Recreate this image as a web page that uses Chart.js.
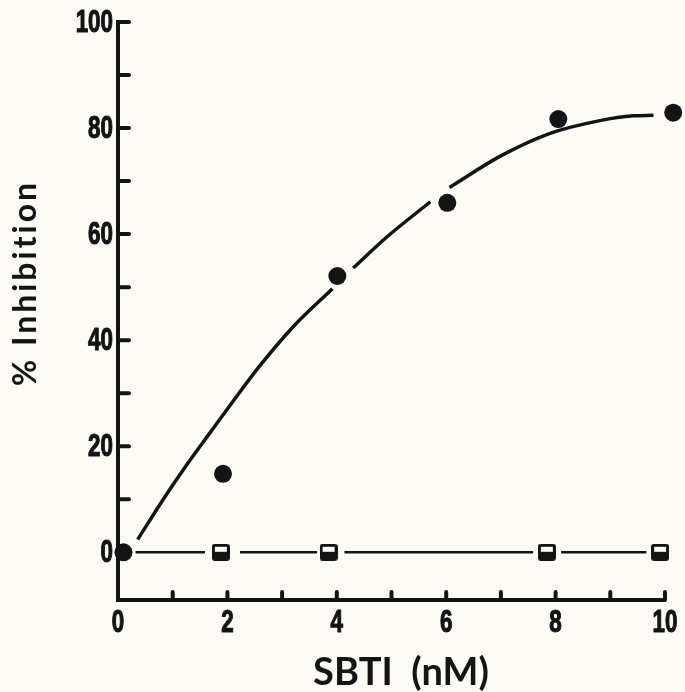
<!DOCTYPE html>
<html>
<head>
<meta charset="utf-8">
<script src="https://cdn.jsdelivr.net/npm/chart.js@4.4.0/dist/chart.umd.min.js"></script>
<style>
  html, body { margin: 0; padding: 0; background: #fcfaf5; }
  #wrap { width: 685px; height: 692px; }
</style>
</head>
<body>
<div id="wrap"><canvas id="inhibChart" width="685" height="692"></canvas></div>
<script>
// measured points (filled circles) and control (half-filled squares)
const circleX = [0.1, 1.92, 4.01, 6.02, 8.05, 10.15];
const circleY = [0, 14.8, 52.1, 65.9, 81.7, 82.9];
const squareX = [1.88, 3.85, 7.84, 9.91];
const squareY = [0, 0, 0, 0];

const curveX1 = [0.36, 0.84, 1.27, 1.70, 2.12, 2.58, 3.19, 3.92];
const curveY1 = [2.4, 10.2, 16.7, 22.8, 28.7, 35.0, 42.4, 49.7];
const curveX2 = [4.30, 4.92, 5.71];
const curveY2 = [53.6, 59.5, 66.1];
const curveX3 = [6.06, 6.99, 7.90, 8.81, 9.42, 9.79];
const curveY3 = [68.8, 74.7, 79.0, 81.4, 82.3, 82.4];

// flat line through the squares, broken at each marker
const controlStart = [0.32, 2.23, 4.14, 8.10];
const controlEnd = [1.59, 3.64, 7.59, 9.66];
const controlLevel = 0;

const xTickLabels = [0, 2, 4, 6, 8, 10];
const yTickLabels = [0, 20, 40, 60, 80, 100];
const xTickMarks = [1, 2, 3, 4, 5, 6, 7, 8, 9, 10];
const yTickMarks = [10, 20, 30, 40, 50, 60, 70, 80, 90, 100];

const ink = '#141414';
const paper = '#fcfaf5';

function zip(xs, ys) {
    return xs.map((x, i) => ({ x: x, y: ys[i] }));
}

function makeSquareMarker() {
    const c = document.createElement('canvas');
    c.width = 18;
    c.height = 17;
    const g = c.getContext('2d');
    g.fillStyle = ink;
    g.beginPath();
    g.roundRect(0, 0, 18, 17, 3);
    g.fill();
    g.fillStyle = paper;
    g.fillRect(3, 3, 12, 5);
    return c;
}

const curveStyle = {
    showLine: true,
    borderColor: ink,
    borderWidth: 3.5,
    pointRadius: 0,
    cubicInterpolationMode: 'monotone',
    borderCapStyle: 'butt'
};

const datasets = [
    Object.assign({ data: zip(curveX1, curveY1) }, curveStyle),
    Object.assign({ data: zip(curveX2, curveY2) }, curveStyle),
    Object.assign({ data: zip(curveX3, curveY3) }, curveStyle)
];

controlStart.forEach((x0, i) => {
    datasets.push({
        data: [{ x: x0, y: controlLevel }, { x: controlEnd[i], y: controlLevel }],
        showLine: true,
        borderColor: ink,
        borderWidth: 2.5,
        pointRadius: 0
    });
});

datasets.push({
    data: zip(squareX, squareY),
    pointStyle: makeSquareMarker(),
    pointRadius: 9,
    clip: false
});

datasets.push({
    data: zip(circleX, circleY),
    backgroundColor: ink,
    borderColor: ink,
    borderWidth: 0,
    pointRadius: 9,
    clip: false
});

// narrow tick numbers, inward tick marks and off-centre titles, drawn on the scales
function narrowText(ctx, text, x, y, align) {
    ctx.save();
    ctx.translate(x, y);
    ctx.scale(0.7, 1);
    ctx.textAlign = align;
    ctx.fillText(text, 0, 0);
    ctx.strokeText(text, 0, 0);
    ctx.restore();
}

const paperAxes = {
    id: 'paperAxes',
    beforeDraw(chart) {
        const ctx = chart.ctx;
        ctx.save();
        ctx.fillStyle = paper;
        ctx.fillRect(0, 0, chart.width, chart.height);
        ctx.restore();
    },
    afterDraw(chart) {
        const ctx = chart.ctx;
        const xs = chart.scales.x;
        const ys = chart.scales.y;
        const area = chart.chartArea;
        ctx.save();
        ctx.strokeStyle = ink;
        ctx.lineWidth = 4;
        ctx.lineCap = 'round';
        yTickMarks.forEach(v => {
            const py = ys.getPixelForValue(v);
            ctx.beginPath();
            ctx.moveTo(area.left, py);
            ctx.lineTo(area.left + 11, py);
            ctx.stroke();
        });
        xTickMarks.forEach(v => {
            const px = xs.getPixelForValue(v);
            ctx.beginPath();
            ctx.moveTo(px, area.bottom);
            ctx.lineTo(px, area.bottom - 8);
            ctx.stroke();
        });

        ctx.fillStyle = ink;
        ctx.lineWidth = 1.2;
        ctx.lineJoin = 'round';
        ctx.font = 'bold 32px "Liberation Sans", Arial, sans-serif';
        ctx.textBaseline = 'middle';
        yTickLabels.forEach(v => {
            narrowText(ctx, String(v), area.left - 5, ys.getPixelForValue(v) + 1, 'right');
        });
        ctx.textBaseline = 'top';
        xTickLabels.forEach(v => {
            narrowText(ctx, String(v), xs.getPixelForValue(v), area.bottom + 7, 'center');
        });

        ctx.textAlign = 'center';
        ctx.textBaseline = 'alphabetic';
        ctx.font = 'bold 38px Lato, sans-serif';
        ctx.fillText('SBTI  (nM)', 401, 685);

        ctx.translate(36, 283);
        ctx.rotate(-Math.PI / 2);
        ctx.font = 'bold 32px Lato, sans-serif';
        ctx.letterSpacing = '3px';
        ctx.fillText('% Inhibition', 0, 0);
        ctx.restore();
    }
};

new Chart(document.getElementById('inhibChart'), {
    type: 'scatter',
    data: { datasets: datasets },
    plugins: [paperAxes],
    options: {
        responsive: false,
        animation: false,
        layout: { padding: { left: 0, right: 20, top: 22, bottom: 0 } },
        plugins: {
            legend: { display: false },
            tooltip: { enabled: false }
        },
        scales: {
            x: {
                type: 'linear',
                min: 0,
                max: 10,
                afterBuildTicks: axis => { axis.ticks = xTickLabels.map(v => ({ value: v })); },
                afterFit: axis => { axis.height = 92; },
                grid: { display: false, drawTicks: false },
                border: { display: true, color: ink, width: 4 },
                ticks: { display: false }
            },
            y: {
                type: 'linear',
                min: -9,
                max: 100,
                afterBuildTicks: axis => { axis.ticks = yTickLabels.map(v => ({ value: v })); },
                afterFit: axis => { axis.width = 118; },
                grid: { display: false, drawTicks: false },
                border: { display: true, color: ink, width: 4 },
                ticks: { display: false }
            }
        }
    }
});
</script>
</body>
</html>
